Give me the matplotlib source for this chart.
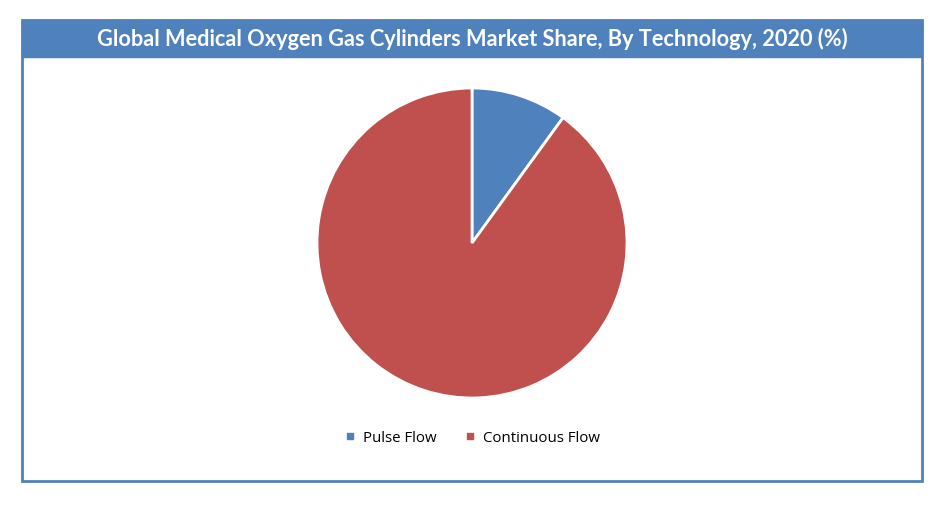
import matplotlib.pyplot as plt
from matplotlib.patches import Rectangle
from matplotlib.lines import Line2D

W, H = 950, 508

title = 'Global Medical Oxygen Gas Cylinders Market Share, By Technology, 2020 (%)'
segments = ['Pulse Flow', 'Continuous Flow']
shares = [10, 90]
colors = ['#4F81BD', '#C0504D']


def px(x, y):
    """pixel (from top-left) to figure fraction"""
    return x / W, 1 - y / H


fig = plt.figure(figsize=(W / 100, H / 100), dpi=100)

# outer frame and title bar
x0, y0 = px(22, 481)
fig.patches.append(Rectangle((x0, y0), 900 / W, 461 / H, transform=fig.transFigure,
                             facecolor='none', edgecolor='#4F81BD', lw=2))
bx, by = px(22, 57)
fig.patches.append(Rectangle((bx, by), 900 / W, 37 / H, transform=fig.transFigure,
                             facecolor='#4F81BD', edgecolor='#4F81BD', lw=1))
tx, ty = px(472, 39)
fig.text(tx, ty, title, ha='center', va='center', color='white',
         fontsize=15.7, fontweight='bold', family='Lato')

# pie
half = 160
cx, cy = 472, 243
ax = fig.add_axes([(cx - half) / W, (H - cy - half) / H, 2 * half / W, 2 * half / H])
ax.pie(shares, colors=colors, startangle=90, counterclock=False, radius=155 / half,
       wedgeprops=dict(edgecolor='white', linewidth=2))
ax.set_xlim(-1, 1)
ax.set_ylim(-1, 1)
ax.set_aspect('equal')
ax.axis('off')

# legend
handles = [Line2D([], [], marker='s', linestyle='none', color=c, markersize=5) for c in colors]
lx, ly = px(472, 438)
fig.legend(handles, segments, loc='center', bbox_to_anchor=(lx, ly), ncol=2, frameon=False,
           handlelength=0.8, handletextpad=0.5, columnspacing=1.8,
           prop=dict(family='Open Sans', size=10.8))

fig.savefig('out.png', dpi=100)
plt.close(fig)
